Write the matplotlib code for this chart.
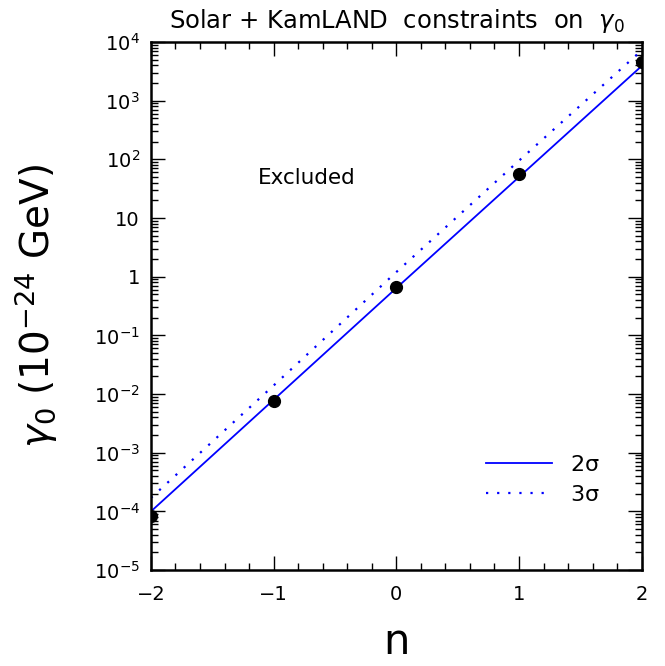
import math
import matplotlib
matplotlib.use("Agg")
import matplotlib.pyplot as plt
from matplotlib.ticker import LogLocator, MultipleLocator, FuncFormatter, NullFormatter

plt.rcParams['font.family'] = ['DejaVu Sans']
plt.rcParams['mathtext.default'] = 'regular'

# values
n_vals = [-2, -1, 0, 1, 2]
gamma_2sigma = [1.0e-4, 8.0e-3, 0.64, 50, 3900]
gamma_3sigma = [1.7e-4, 1.4e-2, 1.2, 95, 7200]
best_fit = [8.4e-5, 7.6e-3, 0.68, 57, 4500]

fig = plt.figure(figsize=(6.65, 6.66), dpi=100)
ax = fig.add_axes([0.227, 0.144, 0.738, 0.793])

ax.plot(n_vals, gamma_2sigma, color='#0000ff', lw=1.3, linestyle='-', label=r'2$\sigma$')
ax.plot(n_vals, gamma_3sigma, color='#0000ff', lw=1.6, linestyle=(0, (1, 4)), label=r'3$\sigma$')
ax.plot(n_vals, best_fit, 'o', color='black', markersize=8.5, zorder=5)

ax.set_yscale('log')
ax.set_xlim(-2, 2)
ax.set_ylim(1e-5, 1e4)

ax.xaxis.set_major_locator(MultipleLocator(1))
ax.xaxis.set_minor_locator(MultipleLocator(0.2))
ax.xaxis.set_major_formatter(FuncFormatter(lambda v, p: f"{int(round(v))}".replace('-', '\u2212')))


def ylab(v, p):
    k = int(round(math.log10(v)))
    if k == 0:
        return '1'
    if k == 1:
        return '10'
    return r'$10^{%d}$' % k


ax.yaxis.set_major_locator(LogLocator(base=10, numticks=20))
ax.yaxis.set_minor_locator(LogLocator(base=10, subs=range(2, 10), numticks=20))
ax.yaxis.set_major_formatter(FuncFormatter(ylab))
ax.yaxis.set_minor_formatter(NullFormatter())

ax.tick_params(which='both', direction='in', top=True, right=True, width=1.0)
ax.tick_params(which='major', length=10)
ax.tick_params(which='minor', length=5)
ax.tick_params(axis='x', which='major', pad=11, labelsize=14)
ax.tick_params(axis='y', which='major', pad=8, labelsize=14)
for s in ax.spines.values():
    s.set_linewidth(1.8)

ax.set_xlabel('n', fontsize=30, labelpad=12)
ax.set_ylabel(r'$\mathit{\gamma}_0$ (10$^{-24}$ GeV)', fontsize=28, labelpad=24)
ax.set_title(r'Solar + KamLAND  constraints  on  $\mathit{\gamma}_0$', fontsize=17.5, pad=10)

ax.text(-1.13, 48, 'Excluded', fontsize=15.5, va='center')

leg = ax.legend(loc='lower right', bbox_to_anchor=(0.955, 0.085), frameon=False,
                fontsize=16, handlelength=3.0, handletextpad=0.8, labelspacing=0.45)

fig.savefig('out.png', dpi=100)
